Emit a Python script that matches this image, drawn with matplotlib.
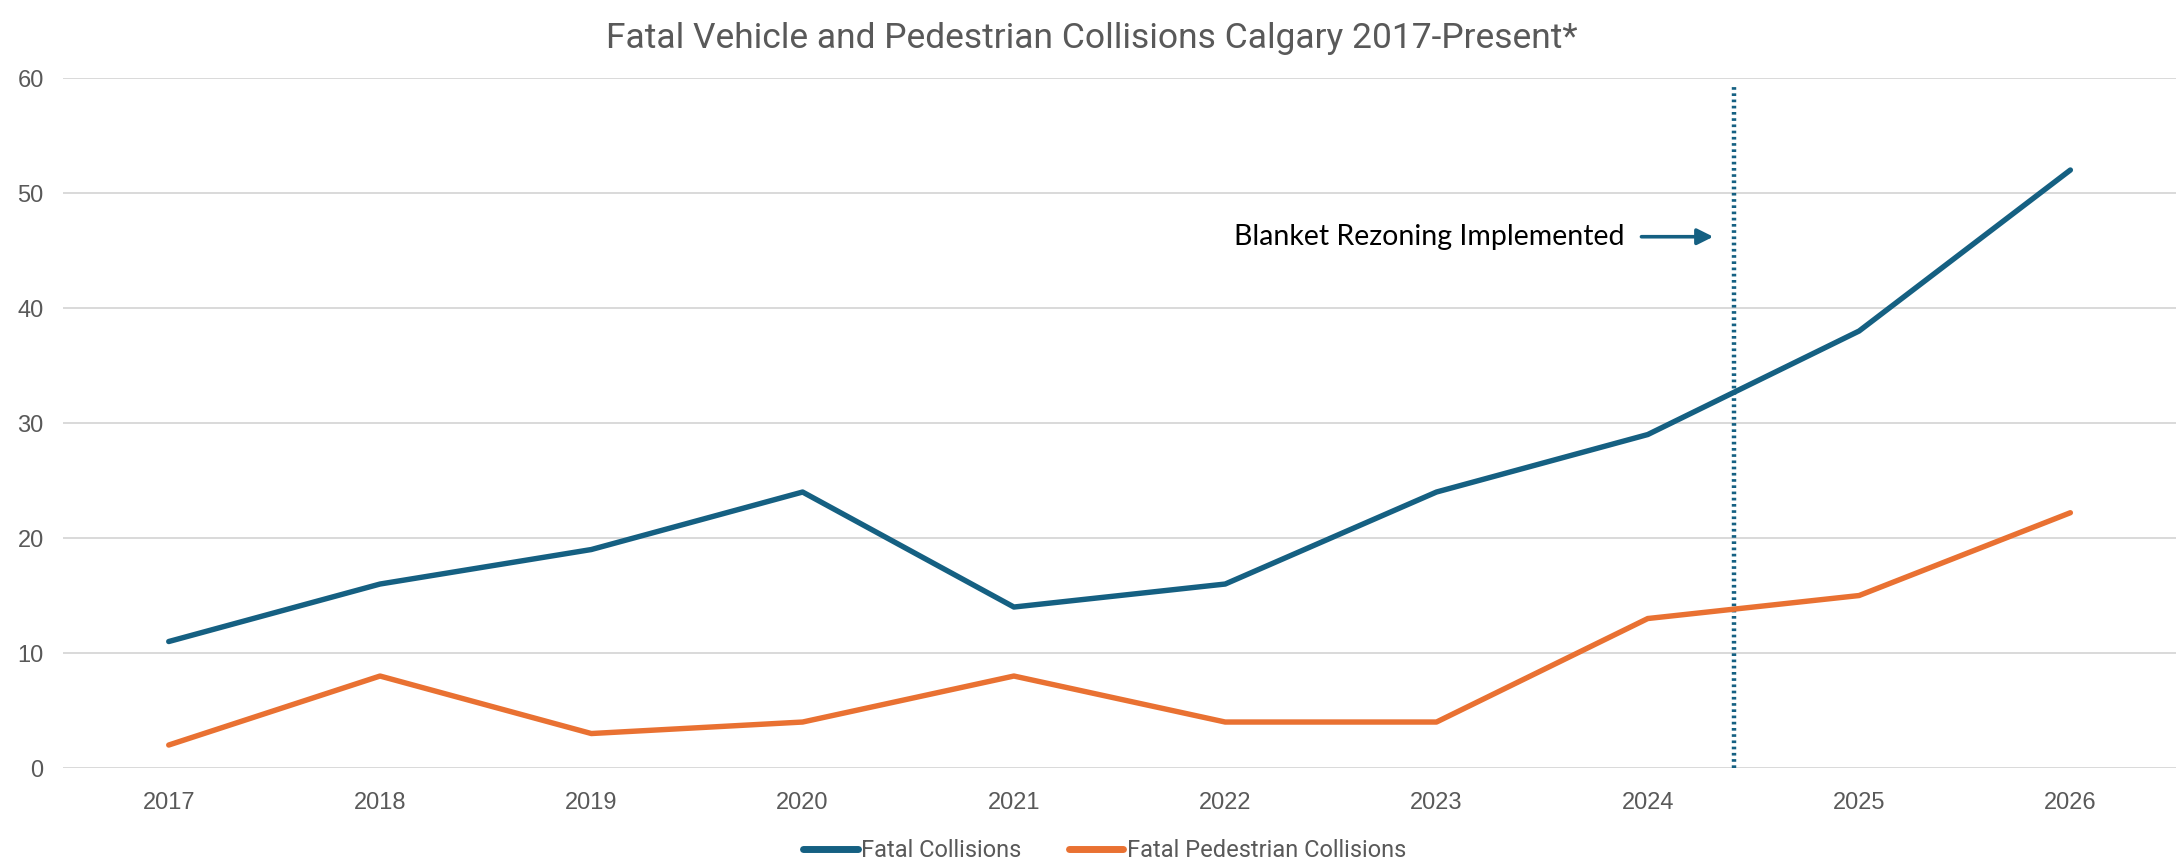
import matplotlib
matplotlib.use('Agg')
import matplotlib.pyplot as plt
import numpy as np

# data
years = ['2017', '2018', '2019', '2020', '2021', '2022', '2023', '2024', '2025', '2026']
fatal_collisions = [11, 16, 19, 24, 14, 16, 24, 29, 38, 52]
fatal_pedestrian = [2, 8, 3, 4, 8, 4, 4, 13, 15, 22.2]
rezoning_pos = 7.41   # between 2024 and 2025
note_text = 'Blanket Rezoning Implemented'

blue = '#156082'
orange = '#E97132'
grey_txt = '#595959'
narrow = ['DejaVu Sans Condensed', 'Roboto', 'DejaVu Sans']

plt.rcParams['font.family'] = ['Liberation Sans', 'DejaVu Sans']

fig = plt.figure(figsize=(21.83, 8.65), dpi=100)
ax = fig.add_axes([0.0289, 0.1121, 0.9679, 0.7977])

x = np.arange(len(years))
ax.plot(x, fatal_collisions, color=blue, lw=3.9, solid_capstyle='round',
        solid_joinstyle='round', label='Fatal Collisions', zorder=3)
ax.plot(x, fatal_pedestrian, color=orange, lw=3.9, solid_capstyle='round',
        solid_joinstyle='round', label='Fatal Pedestrian Collisions', zorder=3)

# blanket rezoning marker
ax.plot([rezoning_pos, rezoning_pos], [0, 59.3], color=blue, lw=3.2,
        linestyle=(0, (0.6, 0.8)), zorder=2)
ax.annotate('', xy=(7.31, 46.2), xytext=(6.97, 46.2),
            arrowprops=dict(arrowstyle='-|>', color=blue, lw=2.6,
                            mutation_scale=24, shrinkA=0, shrinkB=0))
ax.text(6.89, 46.2, note_text, ha='right', va='center', fontsize=20.5,
        color='black', family=['Lato', 'DejaVu Sans'])

ax.set_xlim(-0.5, len(years) - 0.5)
ax.set_ylim(0, 60)
ax.set_yticks(range(0, 61, 10))
ax.set_xticks(x)
ax.set_xticklabels(years)
ax.tick_params(axis='both', length=0, labelsize=17, colors=grey_txt)
ax.tick_params(axis='x', pad=17)
ax.tick_params(axis='y', pad=14)
ax.grid(axis='y', color='#D9D9D9', lw=1.4)
ax.set_axisbelow(True)
for s in ax.spines.values():
    s.set_visible(False)

fig.suptitle('Fatal Vehicle and Pedestrian Collisions Calgary 2017-Present*',
             x=0.5, y=0.975, fontsize=25.5, color=grey_txt, family=narrow)

leg = fig.legend(loc='center', bbox_to_anchor=(0.506, 0.017), ncol=2,
                 frameon=False, handlelength=2.3,
                 handletextpad=0.15, columnspacing=2.0,
                 prop={'family': narrow, 'size': 17})
for t in leg.get_texts():
    t.set_color(grey_txt)
for h in leg.legend_handles:
    h.set_linewidth(5)

fig.savefig('out.png', dpi=100)
